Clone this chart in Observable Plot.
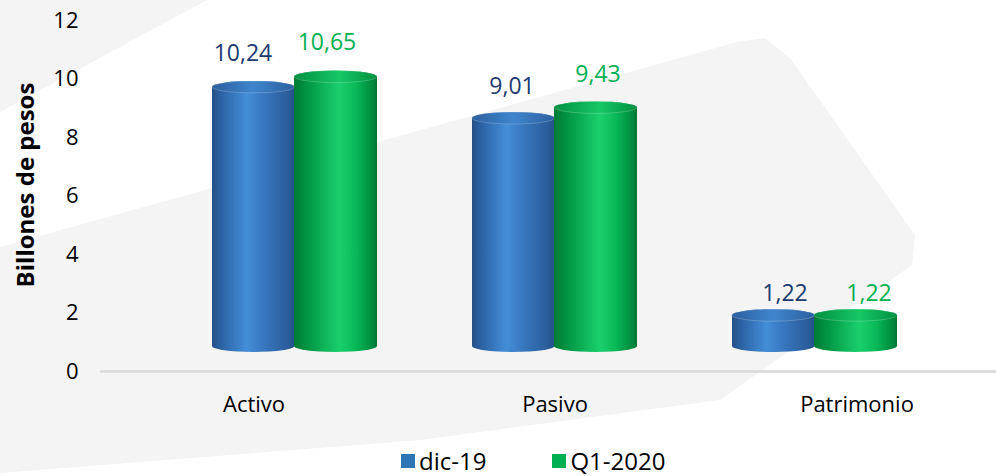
<!DOCTYPE html>
<html>
<head>
<meta charset="utf-8">
<script src="https://cdn.jsdelivr.net/npm/d3@7"></script>
<script src="https://cdn.jsdelivr.net/npm/@observablehq/plot@0.6"></script>
<style>
  html, body { margin: 0; padding: 0; background: #ffffff; }
  #wrap { position: relative; width: 996px; height: 476px; overflow: hidden; font-family: "Open Sans", sans-serif; }
  #bg { position: absolute; left: 0; top: 0; }
  #chart { position: absolute; left: 0; top: 0; }
  #legend { position: absolute; left: 401px; top: 447px; }
  #legend .lg-swatches { font-family: "Open Sans", sans-serif !important; font-size: 24px !important; color: #000 !important; min-height: 28px !important; line-height: 28px !important; }
  #legend .lg-swatch { margin-right: 66px !important; }
  #legend .lg-swatch > svg { margin-right: 4px !important; }
</style>
</head>
<body>
<div id="wrap">
  <svg id="bg" width="996" height="476">
    <defs>
      <linearGradient id="gBlue" x1="0" x2="1" y1="0" y2="0">
        <stop offset="0" stop-color="#244f86"/>
        <stop offset="0.12" stop-color="#2c63a6"/>
        <stop offset="0.42" stop-color="#448ed8"/>
        <stop offset="0.62" stop-color="#3877bf"/>
        <stop offset="0.92" stop-color="#2a5d9b"/>
        <stop offset="1" stop-color="#234f86"/>
      </linearGradient>
      <linearGradient id="gGreen" x1="0" x2="1" y1="0" y2="0">
        <stop offset="0" stop-color="#007a34"/>
        <stop offset="0.15" stop-color="#009443"/>
        <stop offset="0.55" stop-color="#1bd06c"/>
        <stop offset="0.75" stop-color="#08b857"/>
        <stop offset="0.95" stop-color="#00883c"/>
        <stop offset="1" stop-color="#007432"/>
      </linearGradient>
      <linearGradient id="gBlueCap" x1="0" x2="1" y1="0" y2="0">
        <stop offset="0" stop-color="#2c60a0"/>
        <stop offset="0.5" stop-color="#3f85cc"/>
        <stop offset="1" stop-color="#2c60a0"/>
      </linearGradient>
      <linearGradient id="gGreenCap" x1="0" x2="1" y1="0" y2="0">
        <stop offset="0" stop-color="#009040"/>
        <stop offset="0.55" stop-color="#17c765"/>
        <stop offset="1" stop-color="#009040"/>
      </linearGradient>
    </defs>
    <polygon points="0,0 207,0 0,112" fill="#f4f4f4"/>
    <polygon points="0,247 737,42 765,38 790,58 915,235 912,265 720,400 420,440 0,473" fill="#f4f4f4"/>
  </svg>
  <div id="chart"></div>
  <div id="legend"></div>
</div>
<script>
// ---- data ----
const categories = ["Activo", "Pasivo", "Patrimonio"];
const series = ["dic-19", "Q1-2020"];
const dic19 = [10.24, 9.01, 1.22];
const q12020 = [10.65, 9.43, 1.22];
const yTicks = [0, 2, 4, 6, 8, 10, 12];
const yTitle = "Billones de pesos";

// ---- styles ----
const seriesColors = ["#2e75b6", "#00b050"];
const labelColors = ["#203a72", "#00b050"];
const barFills = ["url(#gBlue)", "url(#gGreen)"];
const capFills = ["url(#gBlueCap)", "url(#gGreenCap)"];
const catShift = [-41, 0, 42];            // front-plane perspective shift of category labels
const labelShift = [[-11, -2, 11], [-9, 2, 13]];

// Excel-like 3D depth projection: bars stand on the back wall behind the axis plane
const depth = {floor: 0.65, base: 1.06, k: 0.865, cap: 0.41};
const labelDepth = {base: 1.538, k: 0.9115};

const fmt = v => v.toFixed(2).replace(".", ",");

const rows = [];
categories.forEach((c, i) => {
  rows.push({cat: c, i, s: 0, series: series[0], value: dic19[i]});
  rows.push({cat: c, i, s: 1, series: series[1], value: q12020[i]});
});
const rowsOf = s => rows.filter(d => d.s === s);

const barMarks = [0, 1].flatMap(s => {
  const inset = s === 0 ? {insetRight: 82.5} : {insetLeft: 82};
  return [
    Plot.barY(rowsOf(s), {
      x: "cat",
      y1: () => depth.floor,
      y2: d => depth.base + depth.k * d.value,
      fill: barFills[s], rx: 41, ry: 6, ...inset
    }),
    Plot.barY(rowsOf(s), {
      x: "cat",
      y1: d => depth.base + depth.k * d.value - depth.cap,
      y2: d => depth.base + depth.k * d.value,
      fill: capFills[s], stroke: "#ffffff", strokeOpacity: 0.25, strokeWidth: 0.8,
      rx: 41, ry: 6, ...inset
    })
  ];
});

const labelMarks = [];
categories.forEach((c, i) => {
  labelMarks.push(Plot.text([c], {
    x: d => d, text: d => d, frameAnchor: "bottom", dy: 33, dx: catShift[i],
    fill: "#000", fontSize: 22, lineAnchor: "middle"
  }));
  [0, 1].forEach(s => {
    labelMarks.push(Plot.text(rows.filter(d => d.i === i && d.s === s), {
      x: "cat",
      y: d => labelDepth.base + labelDepth.k * d.value,
      text: d => fmt(d.value),
      dx: (s === 0 ? -41 : 41) + labelShift[s][i],
      fill: labelColors[s], fontSize: 23, lineAnchor: "middle"
    }));
  });
});

const chart = Plot.plot({
  width: 996,
  height: 444,
  marginLeft: 100,
  marginRight: 0,
  marginTop: 20,
  marginBottom: 73,
  style: {background: "transparent", fontFamily: "'Open Sans', sans-serif", fontSize: "22px", color: "#000", overflow: "visible"},
  x: {domain: categories, range: [116, 993], padding: 0.367, axis: null},
  y: {domain: [0, 12], ticks: yTicks, tickSize: 0, tickPadding: 22, label: null, tickFormat: d => String(d)},
  marks: [
    Plot.ruleY([0], {stroke: "#d9d9d9", strokeWidth: 2.5}),
    ...barMarks,
    ...labelMarks,
    Plot.text([yTitle], {
      text: d => d, frameAnchor: "left", textAnchor: "middle", rotate: -90, dx: -74, dy: -11,
      fontSize: 24, fontWeight: "bold", fill: "#000", lineAnchor: "middle"
    })
  ]
});
document.getElementById("chart").appendChild(chart);

const legend = Plot.legend({
  color: {domain: series, range: seriesColors, type: "ordinal"},
  legend: "swatches",
  swatchSize: 14,
  className: "lg"
});
document.getElementById("legend").appendChild(legend);
</script>
</body>
</html>
